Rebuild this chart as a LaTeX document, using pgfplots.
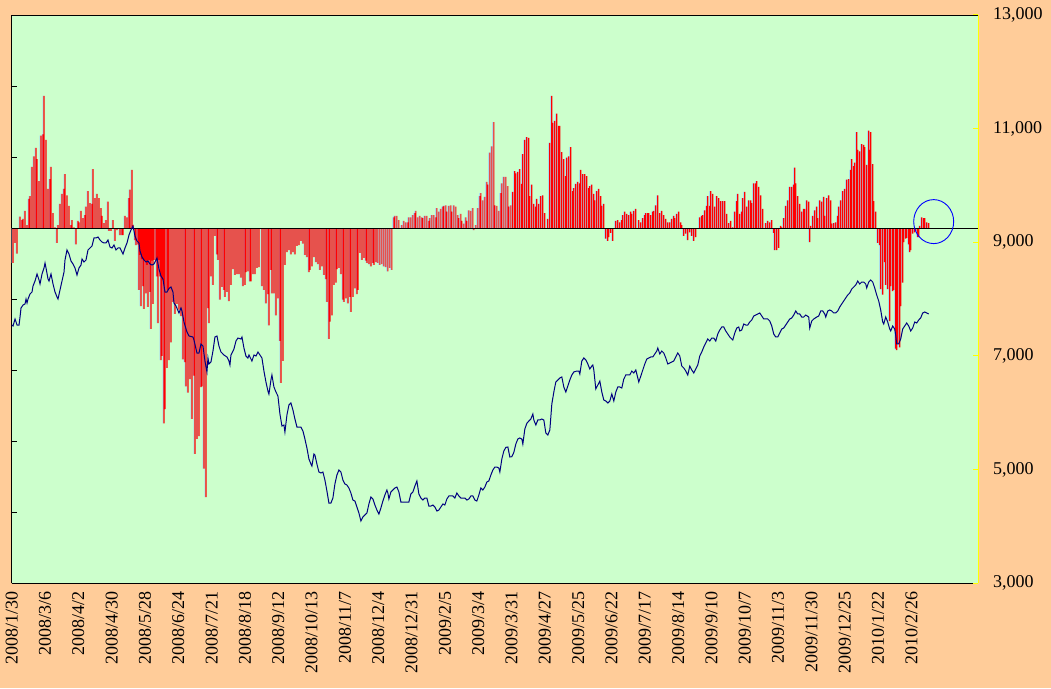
\documentclass[border=0pt]{standalone}
\usepackage{fontspec}
\setmainfont{Liberation Serif}
\usepackage{pgfplots}
\usepackage{pgfplotstable}
\pgfplotsset{compat=1.18}
\definecolor{bgpeach}{HTML}{FFCC99}
\definecolor{plotgreen}{HTML}{CCFFCC}
\definecolor{barred}{HTML}{FF0000}
\definecolor{barblue}{HTML}{99CCFF}
\definecolor{navyline}{HTML}{000080}
\definecolor{axisyellow}{HTML}{FFFF00}

\pgfplotstableread{
u v
0.04 -0.49
0.10 -0.21
0.16 -0.36
0.25 0.16
0.31 0.11
0.34 0.13
0.40 0.24
0.46 0.04
0.52 0.41
0.55 0.45
0.61 0.86
0.67 1.01
0.73 1.13
0.76 0.97
0.82 0.66
0.88 1.30
0.94 1.32
0.97 1.86
1.03 1.24
1.09 0.55
1.15 0.69
1.18 0.86
1.24 0.21
1.30 0.01
1.36 -0.21
1.39 0.04
1.45 0.34
1.51 0.48
1.57 0.55
1.60 0.76
1.66 0.46
1.72 0.31
1.78 0.04
1.81 0.11
1.87 0.01
1.93 -0.23
1.99 0.10
2.02 0.08
2.08 0.24
2.14 0.14
2.20 0.18
2.23 0.30
2.29 0.52
2.35 0.35
2.41 0.34
2.44 0.83
2.50 0.42
2.56 0.48
2.62 0.42
2.68 0.28
2.71 0.17
2.77 0.07
2.83 0.11
2.89 0.37
2.92 -0.04
2.98 -0.04
3.04 0.11
3.10 -0.18
3.16 -0.03
3.22 -0.01
3.25 -0.10
3.31 -0.10
3.34 -0.10
3.40 0.17
3.46 0.15
3.52 0.42
3.55 0.54
3.61 0.82
3.64 0.04
3.70 -0.17
3.73 -0.24
3.79 -0.23
3.82 -0.87
3.85 -0.38
3.88 -1.10
3.91 -0.44
3.94 -0.82
3.97 -1.14
4.00 -0.46
4.03 -0.92
4.06 -0.52
4.09 -1.11
4.12 -0.45
4.15 -0.90
4.18 -1.42
4.21 -0.46
4.24 -1.07
4.27 -0.45
4.33 -0.45
4.36 -0.68
4.39 -1.34
4.42 -0.45
4.45 -0.68
4.48 -1.86
4.51 -1.80
4.54 -0.73
4.57 -2.75
4.60 -2.55
4.66 -1.97
4.69 -0.87
4.72 -1.86
4.78 -1.61
4.84 -1.04
4.90 -1.21
4.96 -1.07
5.02 -1.15
5.08 -1.24
5.14 -1.85
5.20 -1.89
5.23 -2.23
5.29 -2.32
5.35 -2.13
5.41 -2.69
5.47 -2.08
5.50 -3.18
5.56 -2.97
5.62 -2.93
5.68 -2.24
5.71 -2.23
5.77 -3.39
5.83 -3.79
5.89 -1.13
5.92 -1.34
5.98 -0.68
6.04 -0.80
6.10 -0.11
6.16 -0.37
6.19 -0.45
6.25 -1.01
6.31 -0.83
6.37 -0.87
6.40 -0.97
6.46 -0.90
6.52 -1.03
6.58 -0.80
6.64 -0.58
6.70 -0.66
6.76 -0.65
6.82 -0.65
6.88 -0.70
6.94 -0.82
7.00 -0.80
7.03 -0.62
7.09 -0.61
7.15 -0.75
7.18 -0.75
7.24 -0.65
7.30 -0.65
7.36 -0.56
7.42 -0.55
7.51 -0.82
7.57 -0.87
7.63 -1.06
7.69 -0.93
7.72 -1.37
7.78 -0.59
7.81 -0.92
7.87 -0.92
7.93 -1.23
7.99 -0.99
8.05 -1.59
8.08 -2.18
8.14 -1.87
8.20 -0.52
8.26 -0.34
8.32 -0.31
8.38 -0.37
8.44 -0.34
8.50 -0.37
8.56 -0.25
8.62 -0.24
8.68 -0.18
8.74 -0.22
8.80 -0.38
8.86 -0.41
8.92 -0.62
8.95 -0.59
9.01 -0.54
9.07 -0.41
9.13 -0.48
9.19 -0.51
9.25 -0.59
9.31 -0.54
9.37 -0.66
9.43 -0.72
9.46 -1.04
9.52 -1.56
9.55 -1.32
9.61 -1.23
9.67 -0.80
9.73 -0.77
9.76 -0.58
9.82 -0.56
9.88 -0.65
9.94 -1.01
9.97 -1.04
10.03 -0.99
10.09 -1.06
10.15 -0.97
10.18 -1.18
10.24 -0.97
10.30 -0.85
10.36 -0.93
10.39 -0.87
10.45 -0.35
10.51 -0.45
10.57 -0.42
10.63 -0.46
10.66 -0.49
10.72 -0.51
10.78 -0.54
10.84 -0.49
10.87 -0.52
10.93 -0.48
10.99 -0.49
11.05 -0.52
11.11 -0.51
11.17 -0.54
11.23 -0.55
11.29 -0.61
11.35 -0.56
11.41 -0.59
11.47 0.15
11.50 0.17
11.56 0.17
11.62 0.11
11.71 0.04
11.77 0.10
11.83 0.08
11.89 0.08
11.92 0.15
11.98 0.15
12.04 0.18
12.10 0.21
12.13 0.24
12.19 0.15
12.25 0.17
12.31 0.15
12.34 0.14
12.40 0.17
12.46 0.17
12.52 0.10
12.55 0.14
12.61 0.18
12.67 0.18
12.73 0.15
12.76 0.28
12.82 0.23
12.88 0.27
12.94 0.30
12.97 0.31
13.03 0.32
13.06 0.23
13.12 0.31
13.18 0.32
13.21 0.23
13.27 0.32
13.33 0.30
13.39 0.18
13.42 0.14
13.48 0.20
13.51 0.10
13.57 0.06
13.63 0.15
13.66 0.10
13.72 0.25
13.78 0.24
13.84 0.28
13.87 -0.03
13.93 0.04
13.99 0.28
14.05 0.45
14.08 0.49
14.14 0.39
14.20 0.44
14.26 0.65
14.29 0.61
14.35 1.06
14.41 1.15
14.47 1.49
14.50 0.32
14.56 0.31
14.62 0.24
14.68 0.49
14.71 0.63
14.77 0.72
14.83 0.72
14.89 0.59
14.92 0.30
14.98 0.32
15.04 0.51
15.10 0.80
15.13 0.77
15.19 0.79
15.25 0.83
15.31 0.62
15.34 1.04
15.40 1.24
15.46 1.28
15.52 1.27
15.55 0.45
15.61 0.61
15.67 0.34
15.73 0.30
15.76 0.41
15.82 0.34
15.88 0.45
15.94 0.46
16.00 0.21
16.09 0.13
16.15 1.20
16.21 1.86
16.24 1.48
16.30 1.51
16.36 1.61
16.42 1.44
16.45 1.44
16.51 1.07
16.57 0.97
16.63 0.73
16.66 0.99
16.72 1.01
16.78 1.14
16.84 0.52
16.87 0.56
16.93 0.62
16.99 0.65
17.05 0.63
17.08 0.82
17.14 0.76
17.20 0.76
17.26 0.73
17.32 0.56
17.35 0.59
17.41 0.61
17.47 0.48
17.50 0.39
17.56 0.52
17.62 0.55
17.68 0.45
17.71 0.31
17.77 0.34
17.83 -0.15
17.89 -0.18
17.92 -0.13
17.98 -0.07
18.04 -0.18
18.13 0.10
18.19 0.11
18.25 0.08
18.31 0.11
18.34 0.18
18.40 0.23
18.46 0.20
18.52 0.18
18.58 0.23
18.61 0.20
18.67 0.24
18.73 0.27
18.82 0.11
18.88 0.08
18.94 0.14
19.00 0.18
19.03 0.21
19.09 0.21
19.12 0.21
19.18 0.18
19.24 0.23
19.27 0.24
19.33 0.32
19.39 0.46
19.45 0.21
19.51 0.24
19.57 0.18
19.63 0.13
19.69 0.08
19.75 0.08
19.81 0.13
19.87 0.17
19.90 0.14
19.96 0.20
20.02 0.23
20.08 0.08
20.11 0.04
20.17 -0.11
20.23 -0.08
20.29 -0.17
20.35 -0.06
20.41 -0.11
20.47 -0.18
20.53 -0.13
20.65 0.15
20.71 0.17
20.74 0.18
20.80 0.25
20.86 0.31
20.89 0.45
20.95 0.31
20.98 0.52
21.04 0.48
21.10 0.30
21.16 0.45
21.22 0.42
21.28 0.38
21.34 0.38
21.40 0.38
21.46 0.20
21.52 0.07
21.58 0.10
21.64 0.01
21.70 0.23
21.76 0.38
21.79 0.48
21.85 0.20
21.91 0.23
21.94 0.42
22.00 0.51
22.06 0.30
22.12 0.39
22.18 0.39
22.21 0.35
22.27 0.63
22.33 0.63
22.36 0.66
22.42 0.58
22.48 0.46
22.54 0.27
22.63 0.07
22.69 0.10
22.75 0.08
22.81 0.11
22.87 -0.07
22.90 -0.31
22.96 -0.31
23.02 -0.28
23.08 0.03
23.11 0.01
23.17 0.14
23.23 0.31
23.29 0.39
23.35 0.58
23.41 0.58
23.47 0.61
23.50 0.85
23.53 0.63
23.59 0.45
23.65 0.34
23.71 0.23
23.77 0.27
23.80 0.27
23.86 0.39
23.92 0.37
23.95 -0.20
23.98 0.03
24.04 0.17
24.10 0.25
24.16 0.30
24.19 0.14
24.25 0.39
24.31 0.37
24.37 0.44
24.40 0.17
24.46 0.42
24.52 0.46
24.58 0.39
24.61 0.06
24.67 0.07
24.73 0.08
24.79 0.17
24.82 0.30
24.88 0.39
24.94 0.52
25.00 0.55
25.06 0.68
25.12 0.69
25.18 0.82
25.21 0.97
25.27 0.87
25.30 0.92
25.36 1.35
25.39 1.10
25.45 1.08
25.51 1.18
25.57 1.17
25.60 1.14
25.66 0.89
25.72 1.37
25.75 1.10
25.78 1.35
25.84 0.90
25.87 0.38
25.93 0.23
25.99 -0.21
26.05 -0.24
26.08 -0.86
26.14 -0.94
26.20 -0.48
26.23 -0.80
26.29 -0.86
26.35 -1.31
26.38 -0.82
26.44 -0.89
26.47 -0.87
26.53 -1.70
26.56 -1.72
26.59 -1.63
26.65 -1.68
26.68 -1.10
26.74 -0.77
26.77 -0.20
26.83 -0.15
26.86 -0.14
26.92 -0.23
26.95 -0.34
26.98 -0.31
27.04 -0.08
27.10 -0.06
27.13 -0.04
27.19 -0.13
27.22 -0.13
27.25 0.03
27.31 0.15
27.37 0.14
27.40 0.14
27.46 0.08
27.52 0.07
}\bardata

\pgfplotstableread{
u val
0.00 7542
0.04 7525
0.10 7648
0.16 7542
0.22 7542
0.25 7683
0.28 7842
0.34 7894
0.40 7912
0.43 8000
0.46 7930
0.49 8000
0.55 8088
0.61 8123
0.64 8229
0.70 8317
0.76 8440
0.82 8335
0.85 8264
0.91 8440
0.97 8546
1.00 8634
1.03 8546
1.09 8352
1.12 8317
1.18 8440
1.24 8264
1.30 8123
1.36 8035
1.39 8000
1.45 8159
1.51 8317
1.57 8475
1.60 8687
1.66 8863
1.72 8792
1.78 8669
1.84 8616
1.90 8546
1.96 8423
2.02 8546
2.08 8599
2.11 8704
2.17 8651
2.23 8687
2.29 8863
2.35 8898
2.41 8933
2.47 9074
2.53 9074
2.59 9092
2.65 9039
2.71 9004
2.77 8986
2.83 8986
2.89 9039
2.95 8916
3.01 8898
3.07 8951
3.13 8863
3.19 8898
3.25 8898
3.31 8828
3.34 8792
3.40 8898
3.46 8986
3.52 9127
3.58 9215
3.64 9285
3.70 9109
3.76 9021
3.82 8986
3.85 8845
3.91 8740
3.97 8687
4.03 8651
4.09 8669
4.15 8616
4.21 8599
4.27 8616
4.33 8687
4.36 8722
4.42 8528
4.48 8405
4.54 8352
4.60 8123
4.66 8123
4.72 8185
4.78 8211
4.84 8123
4.87 7930
4.93 7877
5.02 7754
5.08 7842
5.11 7789
5.17 7595
5.26 7419
5.32 7349
5.44 7331
5.47 7278
5.56 7049
5.62 7049
5.68 7208
5.74 7172
5.80 6908
5.86 6715
5.89 6961
5.92 6856
5.98 6891
6.04 7084
6.10 7331
6.16 7349
6.22 7172
6.28 7067
6.37 7014
6.46 6979
6.52 6908
6.55 6838
6.58 7014
6.67 7120
6.73 7260
6.79 7313
6.88 7296
6.91 7331
6.97 7137
7.03 6996
7.09 6961
7.12 7014
7.21 6908
7.27 7014
7.33 6996
7.39 7067
7.45 7014
7.51 6961
7.57 6732
7.63 6539
7.69 6380
7.72 6327
7.78 6574
7.81 6662
7.87 6451
7.93 6363
7.99 6292
8.05 5975
8.11 5764
8.17 5782
8.20 5658
8.26 5958
8.32 6134
8.38 6169
8.44 6046
8.50 5887
8.56 5746
8.62 5746
8.68 5746
8.74 5676
8.80 5535
8.86 5377
8.92 5183
8.98 5095
9.01 5060
9.07 5271
9.10 5253
9.16 5095
9.22 4954
9.28 4937
9.34 4954
9.40 4813
9.46 4620
9.52 4408
9.58 4408
9.64 4496
9.70 4743
9.76 4901
9.82 4989
9.88 4954
9.94 4813
10.00 4743
10.06 4725
10.12 4672
10.18 4584
10.24 4461
10.30 4443
10.36 4338
10.42 4232
10.48 4091
10.54 4162
10.60 4197
10.66 4232
10.72 4391
10.78 4514
10.84 4479
10.90 4373
10.96 4285
11.02 4215
11.08 4320
11.14 4443
11.20 4549
11.26 4637
11.29 4584
11.32 4479
11.38 4602
11.44 4637
11.50 4672
11.56 4690
11.62 4602
11.68 4426
11.74 4426
11.80 4426
11.86 4426
11.92 4426
11.98 4567
12.04 4602
12.10 4707
12.16 4796
12.22 4567
12.28 4496
12.34 4461
12.40 4496
12.46 4496
12.52 4355
12.58 4355
12.64 4373
12.70 4338
12.76 4267
12.82 4285
12.88 4338
12.94 4391
13.00 4373
13.06 4479
13.12 4532
13.18 4532
13.24 4532
13.30 4496
13.36 4584
13.42 4532
13.48 4496
13.54 4496
13.60 4496
13.66 4461
13.72 4479
13.78 4532
13.84 4532
13.90 4461
13.96 4443
14.02 4549
14.08 4672
14.14 4637
14.20 4690
14.26 4778
14.32 4796
14.38 4901
14.44 4989
14.50 5042
14.56 5042
14.62 5024
14.65 4954
14.71 5183
14.77 5324
14.83 5388
14.89 5394
14.95 5218
15.01 5224
15.07 5300
15.13 5447
15.19 5535
15.25 5553
15.31 5535
15.34 5447
15.40 5711
15.46 5811
15.52 5852
15.58 5887
15.64 5975
15.67 5870
15.73 5782
15.79 5870
15.85 5870
15.91 5887
15.97 5870
16.03 5641
16.09 5605
16.15 5694
16.21 6151
16.27 6362
16.33 6539
16.39 6574
16.45 6609
16.51 6627
16.57 6451
16.63 6362
16.69 6468
16.75 6574
16.81 6662
16.87 6715
16.96 6732
17.02 6732
17.05 6680
17.11 6908
17.17 6961
17.23 6926
17.29 6856
17.35 6768
17.41 6820
17.44 6838
17.47 6750
17.53 6416
17.59 6486
17.65 6556
17.71 6362
17.77 6222
17.83 6204
17.89 6169
17.95 6204
18.01 6327
18.07 6204
18.13 6362
18.19 6451
18.25 6451
18.31 6433
18.37 6591
18.43 6662
18.49 6662
18.55 6662
18.61 6732
18.67 6697
18.73 6750
18.79 6609
18.82 6539
18.88 6644
18.94 6750
19.00 6856
19.06 6944
19.12 6961
19.18 6979
19.24 6979
19.30 7032
19.36 7084
19.39 7137
19.45 7032
19.51 7084
19.57 7049
19.63 6961
19.69 6856
19.75 6873
19.81 6891
19.87 6908
19.93 6979
19.99 7049
20.05 6996
20.11 6820
20.17 6785
20.23 6732
20.29 6662
20.35 6820
20.41 6750
20.47 6697
20.53 6768
20.59 6838
20.65 6996
20.71 7067
20.77 7155
20.83 7225
20.89 7296
20.95 7260
21.01 7313
21.07 7313
21.13 7260
21.19 7384
21.25 7454
21.31 7507
21.37 7507
21.43 7437
21.49 7384
21.55 7331
21.61 7296
21.64 7278
21.70 7401
21.76 7489
21.82 7507
21.85 7437
21.91 7454
21.97 7560
22.03 7542
22.09 7542
22.15 7595
22.21 7630
22.27 7701
22.33 7718
22.39 7736
22.45 7754
22.51 7701
22.57 7648
22.63 7648
22.69 7648
22.75 7613
22.81 7525
22.87 7384
22.93 7331
22.99 7331
23.05 7401
23.11 7472
23.17 7489
23.23 7542
23.29 7595
23.35 7648
23.41 7666
23.47 7718
23.53 7789
23.59 7736
23.65 7736
23.71 7683
23.77 7683
23.83 7718
23.92 7683
23.95 7489
24.01 7613
24.07 7648
24.16 7683
24.22 7701
24.28 7789
24.34 7789
24.40 7736
24.43 7683
24.49 7789
24.55 7806
24.61 7789
24.67 7754
24.73 7754
24.79 7789
24.85 7859
24.91 7912
24.97 7965
25.03 8018
25.09 8070
25.15 8106
25.21 8176
25.27 8211
25.33 8247
25.39 8317
25.45 8264
25.51 8299
25.57 8299
25.63 8264
25.66 8194
25.72 8299
25.78 8335
25.84 8299
25.90 8194
25.96 8070
26.02 7965
26.08 7806
26.14 7595
26.17 7560
26.23 7683
26.29 7595
26.35 7472
26.38 7437
26.44 7525
26.50 7472
26.53 7366
26.56 7208
26.62 7208
26.68 7296
26.74 7472
26.80 7525
26.86 7577
26.92 7525
26.98 7437
27.04 7489
27.10 7595
27.16 7577
27.22 7630
27.28 7666
27.34 7754
27.40 7771
27.46 7754
27.52 7736
}\linedata

\begin{document}
\begin{tikzpicture}[x=1pt,y=1pt]
\fill[bgpeach] (0,0) rectangle (1051,688);
\useasboundingbox (0,0) rectangle (1051,688);
\begin{axis}[
  at={(11.7pt,105pt)}, anchor=south west,
  scale only axis, width=966.3pt, height=568pt,
  xmin=0, xmax=29, ymin=-5, ymax=3,
  axis background/.style={fill=plotgreen},
  axis x line*=bottom, axis y line*=left,
  axis line style={black, line width=0.8pt},
  xtick={0,...,27},
  xticklabels={2008/1/30,2008/3/6,2008/4/2,2008/4/30,2008/5/28,2008/6/24,2008/7/21,2008/8/18,2008/9/12,2008/10/13,2008/11/7,2008/12/4,2008/12/31,2009/2/5,2009/3/4,2009/3/31,2009/4/27,2009/5/25,2009/6/22,2009/7/17,2009/8/14,2009/9/10,2009/10/7,2009/11/3,2009/11/30,2009/12/25,2010/1/22,2010/2/26},
  x tick style={draw=none},
  ytick={-5,...,3}, yticklabels={},
  y tick style={black, line width=0.8pt},
  major tick length=5pt,
  tick align=inside,
  xticklabel style={rotate=90, anchor=east, inner xsep=8pt, inner ysep=0pt, font=\fontsize{18}{20}\selectfont},
  clip=false,
]
\addplot[ybar, bar width=0.8pt, bar shift=-1.0pt, fill=barblue, draw=none] table[x=u,y=v]{\bardata};
\addplot[ybar, bar width=1.2pt, bar shift=0pt, fill=barred, draw=none] table[x=u,y=v]{\bardata};
\addplot[black, line width=0.8pt, no marks] coordinates {(0,0) (29,0)};
\draw[black, line width=0.8pt] (rel axis cs:0,1) -- (rel axis cs:1,1);
\draw[blue, line width=0.9pt] (axis cs:27.67,0.09) ellipse [x radius=20pt, y radius=22pt];
\end{axis}
\begin{axis}[
  at={(11.7pt,105pt)}, anchor=south west,
  scale only axis, width=966.3pt, height=568pt,
  xmin=0, xmax=29, ymin=3000, ymax=13000,
  axis x line=none,
  axis y line*=right,
  axis line style={axisyellow, line width=1pt},
  ytick={3000,5000,7000,9000,11000,13000},
  scaled y ticks=false,
  y tick style={axisyellow, line width=1pt},
  major tick length=5pt, tick align=inside,
  yticklabel style={anchor=west, inner xsep=15pt, inner ysep=0pt, font=\fontsize{18}{20}\selectfont, text=black},
  /pgf/number format/1000 sep={,},
  /pgf/number format/assume math mode=true,
]
\addplot[navyline, line width=1pt, no marks] table[x=u,y=val]{\linedata};
\end{axis}
\end{tikzpicture}
\end{document}
